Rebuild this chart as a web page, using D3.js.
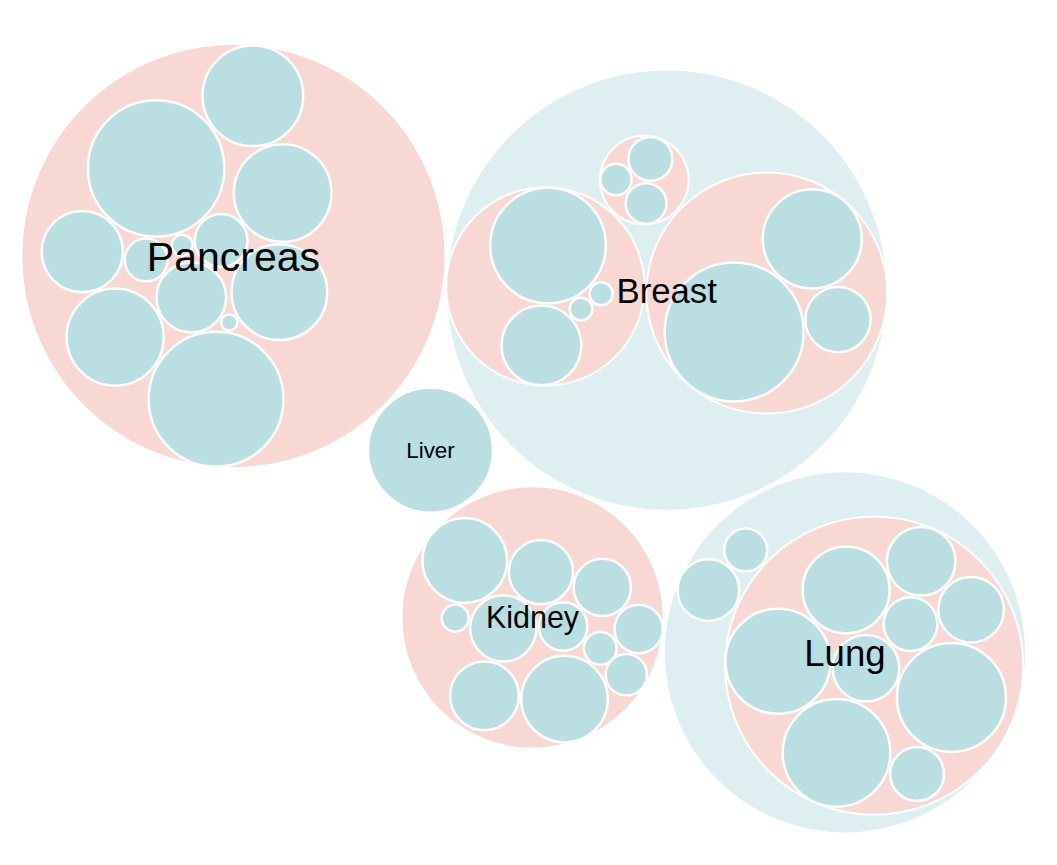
<!DOCTYPE html>
<html>
<head>
<meta charset="utf-8">
<script src="https://cdn.jsdelivr.net/npm/d3@7"></script>
<style>
  html, body { margin: 0; padding: 0; background: #ffffff; }
  svg { display: block; }
  text { font-family: Arial, "Liberation Sans", sans-serif; fill: #000; }
</style>
</head>
<body>
<svg id="chart" width="1057" height="865"></svg>
<script>
// ---------------- data ----------------
const groupNames = ["Breast", "Pancreas", "Liver", "Kidney", "Lung"];

const pancreasValues = [1215, 441, 129, 192, 34, 328, 625, 1190, 22, 671, 633, 608];

const breastSubgroups = ["Breast 1", "Breast 2", "Breast 3"];
const breast1Values = [879, 426, 40, 41];
const breast2Values = [650, 1260, 289];
const breast3Values = [136, 72, 118];

const liverValues = [1024];

const kidneyValues = [480, 281, 298, 55, 164, 225, 320, 500, 78, 163, 121];

const lungSubgroups = ["Lung 1"];
const lung1Values = [200, 301, 784, 292, 319, 506, 729, 765, 200];
const lungLeafValues = [259, 130];

// ---------------- packing recipes (which siblings each circle rests against) ----------------
const topRecipe      = [["start"], ["touch", 0, 184.5], ["between", 1, 0], ["between", 2, 0], ["between", 3, 0]];
const pancreasRecipe = [["start"], ["touch", 0, 131.6], ["between", 1, 0], ["touch", 0, 47.9], ["between", 0, 3],
                        ["touch", 2, 39.7], ["between", 1, 5], ["between", 6, 5], ["between", 7, 5],
                        ["touch", 0, -36.9], ["between", 3, 9], ["between", 8, 10]];
const breastRecipe   = [["start"], ["touch", 0, 1.7], ["between", 1, 0]];
const breast1Recipe  = [["start"], ["touch", 0, 93.8], ["between", 1, 0], ["between", 2, 0]];
const breast2Recipe  = [["start"], ["touch", 0, 130], ["between", 1, 0]];
const breast3Recipe  = [["start"], ["touch", 0, 149.1], ["between", 1, 0]];
const kidneyRecipe   = [["start"], ["touch", 0, 8.6], ["between", 0, 1], ["between", 0, 2], ["between", 2, 1],
                        ["between", 4, 1], ["touch", 2, 105.6], ["touch", 6, 2.4], ["between", 7, 4], ["between", 8, 5],
                        ["between", 7, 9]];
const lungRecipe     = [["start"], ["touch", 0, -155.5], ["between", 0, 1]];
const lung1Recipe    = [["start"], ["touch", 0, 135.3], ["between", 1, 0], ["between", 2, 0], ["between", 3, 0],
                        ["between", 4, 0], ["between", 5, 1], ["between", 6, 1], ["between", 7, 2]];

const recipes = {
  root: topRecipe, Pancreas: pancreasRecipe, Breast: breastRecipe,
  "Breast 1": breast1Recipe, "Breast 2": breast2Recipe, "Breast 3": breast3Recipe,
  Kidney: kidneyRecipe, Lung: lungRecipe, "Lung 1": lung1Recipe
};

// ---------------- styles ----------------
const leafColor = "#b9dfe2";
const pinkColor = "#f9d8d3";
const paleColor = "#deeff1";
const topGap = 0, innerGap = 0;
const frame = { left: 16.5, right: 1031, top: 43, bottom: 834.5 };

// ---------------- hierarchy ----------------
const leaf = v => ({ value: v });
const rootData = {
  name: "root",
  children: [
    { name: groupNames[0], children: breastSubgroups.map((n, i) => ({
        name: n, children: [breast1Values, breast2Values, breast3Values][i].map(leaf) })) },
    { name: groupNames[1], children: pancreasValues.map(leaf) },
    { name: groupNames[2], value: liverValues[0] },
    { name: groupNames[3], children: kidneyValues.map(leaf) },
    { name: groupNames[4], children: [
        { name: lungSubgroups[0], children: lung1Values.map(leaf) },
        ...lungLeafValues.map(leaf) ] }
  ]
};

const root = d3.hierarchy(rootData).sum(d => d.children ? 0 : d.value);
const rScale = d3.scaleSqrt().domain([0, 1]).range([0, 2]);

function place(a, b, r, gap) {
  const da = a.r + r + gap, db = b.r + r + gap;
  const dx = b.x - a.x, dy = b.y - a.y, d = Math.hypot(dx, dy);
  const ux = dx / d, uy = dy / d;
  const x = (da * da - db * db + d * d) / (2 * d);
  const h = Math.sqrt(Math.max(0, da * da - x * x));
  return [a.x + x * ux - h * uy, a.y + x * uy + h * ux];
}

function layout(node) {
  if (!node.children) { node.r = rScale(node.value); return; }
  node.children.forEach(layout);
  const recipe = recipes[node.data.name];
  const gap = node.depth === 0 ? topGap : innerGap;
  node.children.forEach((c, i) => {
    const step = recipe[i];
    if (step[0] === "start") { c.x = 0; c.y = 0; }
    else if (step[0] === "touch") {
      const a = node.children[step[1]];
      const t = step[2] * Math.PI / 180, d = a.r + c.r + gap;
      c.x = a.x + d * Math.cos(t); c.y = a.y + d * Math.sin(t);
    } else {
      [c.x, c.y] = place(node.children[step[1]], node.children[step[2]], c.r, gap);
    }
  });
  const e = d3.packEnclose(node.children.map(c => ({ x: c.x, y: c.y, r: c.r + gap / 2 })));
  node.children.forEach(c => { c.x -= e.x; c.y -= e.y; });
  node.r = e.r;
}
layout(root);
root.x = 0; root.y = 0;
root.each(n => { if (n.parent) { n.x += n.parent.x; n.y += n.parent.y; } });

// fit the top-level circles into the frame
const tops = root.children;
const x0 = d3.min(tops, d => d.x - d.r), x1 = d3.max(tops, d => d.x + d.r);
const y0 = d3.min(tops, d => d.y - d.r), y1 = d3.max(tops, d => d.y + d.r);
const k = Math.min((frame.right - frame.left) / (x1 - x0), (frame.bottom - frame.top) / (y1 - y0));
const xs = d3.scaleLinear().domain([(x0 + x1) / 2, (x0 + x1) / 2 + 1]).range([(frame.left + frame.right) / 2, (frame.left + frame.right) / 2 + k]);
const ys = d3.scaleLinear().domain([(y0 + y1) / 2, (y0 + y1) / 2 + 1]).range([(frame.top + frame.bottom) / 2, (frame.top + frame.bottom) / 2 + k]);

// ---------------- draw ----------------
const svg = d3.select("#chart");
const nodes = root.descendants().slice(1);

svg.append("g").selectAll("circle").data(nodes).join("circle")
  .attr("cx", d => xs(d.x))
  .attr("cy", d => ys(d.y))
  .attr("r", d => d.children ? k * d.r - 1 : k * d.r - 1.25)
  .attr("fill", d => !d.children ? leafColor : (d.height === 1 ? pinkColor : paleColor))
  .attr("stroke", "#ffffff")
  .attr("stroke-width", d => d.children ? 2 : 2.5);

const fontScale = d3.scaleSqrt().domain([0, d3.max(tops, d => d.value)]).range([9.6, 41]);

svg.append("g").selectAll("text").data(tops).join("text")
  .attr("x", d => xs(d.x))
  .attr("y", d => ys(d.y))
  .attr("dy", "0.36em")
  .attr("text-anchor", "middle")
  .style("font-size", d => fontScale(d.value) + "px")
  .text(d => d.data.name);
</script>
</body>
</html>
